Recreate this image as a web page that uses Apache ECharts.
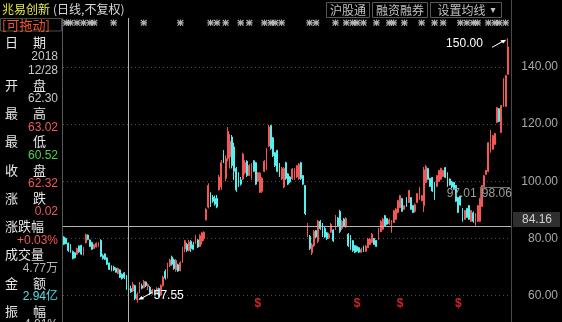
<!DOCTYPE html>
<html>
<head>
<meta charset="utf-8">
<script src="https://cdn.jsdelivr.net/npm/echarts@6/dist/echarts.min.js"></script>
<style>
html,body{margin:0;padding:0;background:#000;overflow:hidden;}
#chart{width:562px;height:322px;}
</style>
</head>
<body>
<div id="chart"></div>
<script>
// ---------------- data ----------------
const opens = [80.5,80.0,78.4,77.9,75.4,75.0,74.4,77.4,77.6,74.3,78.5,81.2,79.5,78.6,76.5,77.0,77.2,79.4,74.0,74.6,
73.2,71.4,70.4,70.0,69.6,67.8,69.0,67.5,68.0,66.5,62.30,62.5,61.6,63.5,58.6,61.0,63.5,62.8,64.8,63.2,
63.0,60.8,61.8,61.0,62.5,60.2,63.5,68.5,66.5,70.5,73.5,72.5,69.0,70.8,68.8,71.6,76.3,78.0,75.8,79.0,
77.8,78.5,79.5,77.2,79.0,80.0,86.5,91.0,96.0,94.5,94.0,94.0,97.0,98.0,110.0,101.0,108.0,108.5,115.5,112.0,
104.5,103.0,100.5,100.8,103.0,107.0,102.0,101.0,107.2,106.5,100.0,96.2,96.5,103.5,104.2,112.3,119.5,115.2,110.0,110.8,
106.0,100.8,98.0,106.5,102.6,101.5,100.8,101.0,101.5,100.8,106.5,102.0,98.5,81.0,80.8,75.0,77.5,82.8,79.0,86.0,
85.0,83.5,82.0,80.2,82.2,83.0,83.5,87.2,89.5,83.5,86.8,84.0,81.5,80.8,79.2,77.5,77.2,76.8,75.2,77.2,
75.5,76.8,77.9,78.6,80.0,79.3,79.6,82.4,83.2,88.0,87.0,85.2,82.3,85.6,86.7,89.0,90.8,94.0,90.2,94.3,
92.6,94.3,91.5,89.5,92.6,93.7,93.2,91.5,99.6,104.5,101.0,101.3,99.6,98.2,100.0,100.7,101.7,104.8,103.0,100.8,
99.8,99.6,98.5,94.3,94.8,90.5,86.7,90.5,91.5,86.0,89.0,84.8,86.0,86.0,91.2,98.2,102.4,103.4,110.2,111.2,
112.9,120.6,125.4,117.1,126.2,126.2,137.4];
const closes = [78.0,78.2,75.8,75.6,73.0,73.3,76.5,75.3,74.6,76.8,81.3,79.7,77.2,76.2,77.8,78.4,78.5,73.8,73.0,72.7,
71.0,69.2,68.8,69.0,68.2,69.5,66.4,66.0,66.3,62.30,62.32,61.3,64.0,59.0,60.5,63.8,62.6,65.0,63.5,63.9,
60.6,62.0,60.8,62.5,60.0,63.5,66.5,66.2,70.5,72.5,71.0,69.5,72.3,68.6,71.5,76.5,79.2,75.8,78.8,76.5,
76.2,81.0,77.0,81.0,82.0,82.2,90.2,98.5,92.0,93.0,92.0,91.0,101.5,106.5,106.8,108.0,117.5,114.0,105.5,103.5,
97.0,98.5,99.0,109.5,106.5,102.0,105.5,106.0,103.5,99.0,103.0,102.8,101.0,107.0,111.2,119.0,111.5,109.0,105.5,103.5,
102.0,104.5,104.5,101.0,99.0,99.8,104.3,104.4,105.4,106.0,101.0,99.0,88.7,84.8,76.5,77.8,82.5,80.5,86.0,83.5,
81.0,80.5,80.0,81.5,85.0,79.2,87.8,84.5,82.5,86.0,84.3,87.0,77.5,76.5,75.8,75.2,75.6,75.2,76.2,75.7,
77.3,79.8,79.8,81.5,77.9,77.2,83.3,86.0,86.8,84.3,85.0,86.5,86.2,89.7,90.3,93.2,95.0,89.5,91.5,91.2,
96.8,90.2,89.1,91.8,95.7,97.8,95.0,104.0,105.2,100.7,98.2,96.6,93.8,102.0,103.8,104.5,103.8,101.4,98.2,98.7,
98.0,97.2,93.0,89.1,91.7,86.0,89.8,87.4,86.7,89.8,86.0,88.7,91.5,94.0,98.5,102.0,103.8,113.5,117.8,116.0,
116.7,125.8,120.9,126.5,135.9,137.0,147.0];
const lows = [77.7,78.0,75.3,75.0,72.7,73.0,74.2,75.0,74.2,74.0,78.3,79.4,77.0,76.0,76.4,76.9,77.0,73.5,72.6,72.5,
70.7,69.0,68.5,68.6,68.0,67.5,66.2,65.6,65.8,62.0,60.52,61.0,61.3,58.5,57.55,60.8,62.2,62.6,63.0,62.0,
60.2,60.4,60.0,60.8,59.5,60.0,63.2,65.6,66.0,70.0,70.5,69.0,68.4,68.3,68.5,71.4,75.2,75.3,75.5,75.3,
76.0,78.2,76.7,77.0,77.8,79.2,86.3,90.5,91.0,92.5,91.5,90.6,96.8,97.0,106.4,100.0,107.0,104.5,104.5,100.5,
96.3,98.0,98.5,100.5,102.5,101.5,101.8,100.5,103.2,98.7,99.8,95.9,95.9,103.2,103.9,112.0,111.0,108.5,105.0,103.2,
101.5,100.5,97.6,100.5,98.7,99.4,100.5,100.5,101.2,100.5,100.5,98.7,88.2,80.5,76.0,74.2,77.0,80.2,78.4,83.0,
80.5,80.2,79.5,79.8,81.9,78.8,83.0,84.0,81.9,83.0,84.0,83.7,77.0,76.0,75.3,74.9,75.3,74.9,74.9,75.3,
75.3,76.7,77.7,78.4,77.7,77.0,79.5,82.3,83.0,84.0,84.8,84.8,82.0,85.4,86.5,88.9,90.6,89.3,90.0,91.0,
92.4,90.0,88.9,89.0,92.4,93.5,93.0,89.3,99.4,100.5,98.0,96.3,93.5,98.0,99.8,100.5,101.5,101.2,98.0,98.5,
97.5,97.0,92.8,88.9,91.5,85.8,86.5,87.2,86.5,85.8,85.5,84.4,85.8,85.8,91.0,98.0,102.2,103.2,110.0,111.0,
112.7,120.4,120.7,116.9,126.0,126.0,137.2];
const highs = [80.8,80.3,78.6,78.1,75.8,75.3,76.8,77.6,77.8,77.1,81.7,81.4,79.7,78.9,78.1,78.6,78.8,79.7,74.6,74.8,
73.4,71.6,70.6,70.5,69.9,69.8,69.2,67.8,68.2,67.2,63.02,63.5,64.8,63.8,61.2,64.8,64.2,65.5,65.0,64.3,
63.4,62.4,62.2,63.0,62.8,64.0,67.0,69.2,71.5,73.0,74.0,73.0,72.8,71.2,72.0,77.0,79.5,78.5,79.5,79.4,
78.8,81.3,79.8,81.5,82.3,82.5,90.6,99.3,96.2,95.2,95.0,95.2,102.2,107.4,110.9,109.0,119.0,116.5,116.2,113.5,
105.0,103.2,101.5,109.9,107.4,107.4,106.0,106.4,107.4,106.8,103.2,103.2,101.5,107.4,111.6,119.7,119.7,115.5,110.2,111.0,
106.4,105.0,105.0,106.8,102.9,101.8,104.6,104.6,105.7,106.4,106.8,102.2,98.7,85.4,81.2,78.4,83.0,83.0,86.5,86.5,
85.4,84.0,82.3,82.0,85.4,83.2,88.2,87.5,90.0,86.5,87.2,87.5,81.9,81.2,79.5,77.7,77.5,77.0,76.8,77.5,
77.7,80.2,80.2,81.9,80.2,79.5,83.7,86.5,87.2,88.2,87.2,87.0,86.5,90.0,90.6,93.5,95.2,94.2,91.7,94.5,
97.0,94.5,91.7,92.3,95.9,98.0,95.2,105.0,105.7,104.7,101.2,101.5,99.8,102.2,104.0,104.7,104.0,105.0,103.2,101.0,
100.2,99.8,98.7,94.5,95.0,90.7,90.0,90.7,91.7,90.0,89.5,88.9,91.7,94.2,98.7,102.2,104.0,113.7,118.0,116.2,
116.9,126.0,125.6,126.7,136.1,137.2,150.0];
const yTicks = [60, 80, 100, 120, 140];
const starIdx = [1,3,6,9,12,14,23,37,54,68,71,75,82,86,93,96,98,101,114,117,126,131,134,136,139,145,151,153,158,166,172,176,184,187,190,192,197,200,202,205];
const dollarIdx = [90, 136, 156, 183];
const crossIdx = 30;          // 2018/12/28
const crossPrice = 84.16;
const volumeText = '4.77万';
const amountText = '2.94亿';
const rangeLow = 97.01, rangeHigh = 98.06, rangeIdx = 193;
const holidays = ['2018-12-31','2019-01-01','2019-02-04','2019-02-05','2019-02-06','2019-02-07','2019-02-08',
  '2019-04-05','2019-05-01','2019-05-02','2019-05-03','2019-06-07','2019-09-13'];

// ---------------- helpers ----------------
function tradingDays(start, n) {
  const out = []; const d = new Date(start + 'T00:00:00Z');
  while (out.length < n) {
    const wd = d.getUTCDay(); const s = d.toISOString().slice(0, 10);
    if (wd !== 0 && wd !== 6 && holidays.indexOf(s) < 0) out.push(s);
    d.setUTCDate(d.getUTCDate() + 1);
  }
  return out;
}
const categories = tradingDays('2018-11-16', opens.length + 1); // one empty slot at the right
const kData = opens.map((o, i) => [o, closes[i], lows[i], highs[i]]);

let lowIdx = 0, highIdx = 0;
lows.forEach((v, i) => { if (v < lows[lowIdx]) lowIdx = i; });
highs.forEach((v, i) => { if (v > highs[highIdx]) highIdx = i; });

const UP = '#f25656', DOWN = '#54f0f0';
const FN = '"Liberation Sans", Arial, sans-serif';
const FC = '"Noto Sans CJK SC", sans-serif';
const STAR_ROW = 155.4, DOLLAR_ROW = 57.3;
const STAR = 'path://M4.2,0 h1.6 v10 h-1.6 Z M0,4.2 h10 v1.6 h-10 Z M1.2,0 L10,8.8 L8.8,10 L0,1.2 Z M8.8,0 L10,1.2 L1.2,10 L0,8.8 Z';
const ARROW_DL = 'path://M0,8 L3.2,4.4 L4.2,5.6 L14,0 L14.5,0.9 L4.9,6.4 L6,7.6 Z';
const ARROW_UR = 'path://M14.5,0 L11.3,3.6 L10.3,2.4 L0.5,8 L0,7.1 L9.6,1.6 L8.5,0.4 Z';

// ---------------- side panel ----------------
const P = closes[crossIdx - 1];
const O = opens[crossIdx], H = highs[crossIdx], L = lows[crossIdx], C = closes[crossIdx];
const chg = C - P, pct = chg / P * 100, amp = (H - L) / P * 100;
const dparts = categories[crossIdx].split('-');
const GREY = '#c8c8c8', RED = '#f05a5a', GREEN = '#4fd24f', CYAN = '#4fe0e6', WHITE = '#e6e6e6';
const cmp = v => v > P ? RED : (v < P ? GREEN : GREY);
const panelRows = [
  {label: ['日', '期']}, {value: dparts[0], color: GREY}, {value: dparts[1] + '/' + dparts[2], color: GREY},
  {label: ['开', '盘']}, {value: O.toFixed(2), color: cmp(O)},
  {label: ['最', '高']}, {value: H.toFixed(2), color: cmp(H)},
  {label: ['最', '低']}, {value: L.toFixed(2), color: cmp(L)},
  {label: ['收', '盘']}, {value: C.toFixed(2), color: cmp(C)},
  {label: ['涨', '跌']}, {value: chg.toFixed(2), color: chg >= 0 ? RED : GREEN},
  {label: ['涨跌幅']}, {value: (chg >= 0 ? '+' : '') + pct.toFixed(2) + '%', color: chg >= 0 ? RED : GREEN},
  {label: ['成交量']}, {value: volumeText, color: '#b4b4b4'},
  {label: ['金', '额']}, {value: amountText, color: CYAN},
  {label: ['振', '幅']}, {value: amp.toFixed(2) + '%', color: GREY}
];
const g = [];
function txt(x, y, text, fill, font, align, z) {
  g.push({type: 'text', x: x, y: y, z: z || 50,
    style: {text: text, fill: fill, font: font, textAlign: align || 'left', align: align || 'left',
      textVerticalAlign: 'middle', verticalAlign: 'middle'}});
}
panelRows.forEach((r, k) => {
  const y = 42.5 + k * 14.13;
  if (r.label) {
    if (r.label.length === 2) { txt(5, y, r.label[0], WHITE, '13px ' + FC); txt(33, y, r.label[1], WHITE, '13px ' + FC); }
    else txt(5, y, r.label[0], WHITE, '13px ' + FC);
  } else {
    txt(58, y, r.value, r.color, '12px ' + FN + ',' + FC, 'right');
  }
});
g.push({type: 'rect', z: 50, shape: {x: 0.5, y: 18.5, width: 61, height: 12.5}, style: {fill: 'none', stroke: '#4a4a4a', lineWidth: 1}});
txt(2, 25, '[可拖动]', '#f0582a', '13px ' + FC);

// header
g.push({type: 'rect', z: 100, shape: {x: 0, y: 0, width: 510.5, height: 18}, style: {fill: '#000'}});
g.push({type: 'line', z: 100, shape: {x1: 511.5, y1: 0, x2: 511.5, y2: 12}, style: {stroke: '#4a4a4a', lineWidth: 1}});
txt(2, 9, '兆易创新', '#e8e84a', '12px ' + FC, 'left', 101);
txt(53, 9, '(日线,不复权)', '#d8d8d8', '12px ' + FC, 'left', 101);
[[326.5, 43, '沪股通'], [372.5, 55, '融资融券'], [430.5, 71, '设置均线']].forEach(b => {
  g.push({type: 'rect', z: 101, shape: {x: b[0], y: 2.5, width: b[1], height: 15}, style: {fill: 'none', stroke: '#585858', lineWidth: 1}});
  if (b[2] === '设置均线') txt(b[0] + 7, 10, b[2], '#c0c0c0', '12px ' + FC, 'left', 102);
  else txt(b[0] + b[1] / 2, 10, b[2], '#c0c0c0', '12px ' + FC, 'center', 102);
});
txt(493, 10, '▾', '#c0c0c0', '10px "DejaVu Sans"', 'center', 102);

// ---------------- chart ----------------
const chart = echarts.init(document.getElementById('chart'), null, {renderer: 'canvas'});
const yCommon = {type: 'value', min: 40, max: 160, interval: 20, scale: false};
chart.setOption({
  backgroundColor: '#000',
  animation: false,
  grid: {left: 63, right: 51, top: 9.7, bottom: -30.9, containLabel: false, outerBoundsMode: 'none'},
  xAxis: {type: 'category', data: categories, boundaryGap: true,
    axisLine: {show: false}, axisTick: {show: false}, axisLabel: {show: false}, splitLine: {show: false}},
  yAxis: [
    Object.assign({}, yCommon, {position: 'right',
      axisLine: {show: true, lineStyle: {color: '#4a4a4a', width: 1}},
      axisTick: {show: false},
      axisLabel: {show: true, color: '#a8a8a8', fontSize: 12, fontFamily: FN, margin: 47, align: 'right',
        formatter: v => (yTicks.indexOf(v) >= 0 ? v.toFixed(2) : '')},
      splitLine: {show: true, lineStyle: {color: '#4c4c4c', type: [1, 3], width: 1}}}),
    Object.assign({}, yCommon, {position: 'left', offset: 1,
      axisLine: {show: true, lineStyle: {color: '#5a5a5a', width: 1}},
      axisTick: {show: false}, axisLabel: {show: false}, splitLine: {show: false}})
  ],
  series: [
    {
      type: 'candlestick', data: kData, barWidth: 1.4,
      itemStyle: {color: UP, color0: DOWN, borderColor: UP, borderColor0: DOWN, borderWidth: 1},
      markLine: {
        silent: true, symbol: ['none', 'none'], animation: false,
        data: [
          {xAxis: categories[crossIdx], lineStyle: {color: '#b4b4b4', width: 1, type: 'solid'}, label: {show: false}},
          {yAxis: crossPrice, lineStyle: {color: '#b4b4b4', width: 1, type: 'solid'},
            label: {show: true, position: 'end', distance: 2, offset: [0, -7], formatter: crossPrice.toFixed(2),
              color: '#d0d0d0', fontSize: 12, fontFamily: FN, backgroundColor: '#2f2f2f', padding: [2, 8, 1, 9]}},
          [{coord: [rangeIdx, rangeHigh]}, {coord: [categories.length - 1, rangeHigh],
            lineStyle: {color: '#6e6e6e', width: 1, type: 'solid'}, label: {show: false}}],
          [{coord: [rangeIdx, rangeHigh]}, {coord: [rangeIdx, rangeLow - 3.4],
            lineStyle: {color: '#6e6e6e', width: 1, type: 'solid'}, label: {show: false}}]
        ]
      },
      markPoint: {
        silent: true, animation: false,
        data: [
          {coord: [lowIdx, lows[lowIdx]], symbol: ARROW_DL, symbolSize: [14.5, 8], symbolOffset: [8.2, -7],
            itemStyle: {color: '#ffffff'},
            label: {show: true, position: 'right', distance: 1, formatter: lows[lowIdx].toFixed(2), color: '#ffffff', fontSize: 12, fontFamily: FN}},
          {coord: [highIdx, highs[highIdx]], symbol: ARROW_UR, symbolSize: [14.5, 8], symbolOffset: [-8.7, 5.5],
            itemStyle: {color: '#ffffff'},
            label: {show: true, position: 'left', distance: 9, formatter: highs[highIdx].toFixed(2), color: '#ffffff', fontSize: 12, fontFamily: FN}},
          {coord: [rangeIdx, 95.56], symbol: 'circle', symbolSize: 0.1, itemStyle: {color: 'rgba(0,0,0,0)'},
            label: {show: true, position: 'left', distance: 3, formatter: rangeLow.toFixed(2), color: '#9c9c9c', fontSize: 12, fontFamily: FN}},
          {coord: [rangeIdx, 95.56], symbol: 'circle', symbolSize: 0.1, itemStyle: {color: 'rgba(0,0,0,0)'},
            label: {show: true, position: 'right', distance: 2, formatter: rangeHigh.toFixed(2), color: '#9c9c9c', fontSize: 12, fontFamily: FN}}
        ]
      }
    },
    {
      type: 'scatter', silent: true, data: starIdx.map(i => [i, STAR_ROW]),
      symbol: STAR, symbolSize: 6.5, itemStyle: {color: '#dedede'}, z: 5
    },
    {
      type: 'scatter', silent: true, data: dollarIdx.map(i => [i, DOLLAR_ROW]),
      symbol: 'circle', symbolSize: 1, itemStyle: {color: 'rgba(0,0,0,0)'},
      label: {show: true, position: 'inside', formatter: '$', color: '#ff3030', fontSize: 12, fontWeight: 'bold', fontFamily: FN}, z: 5
    }
  ],
  graphic: {elements: g}
});
</script>
</body>
</html>
